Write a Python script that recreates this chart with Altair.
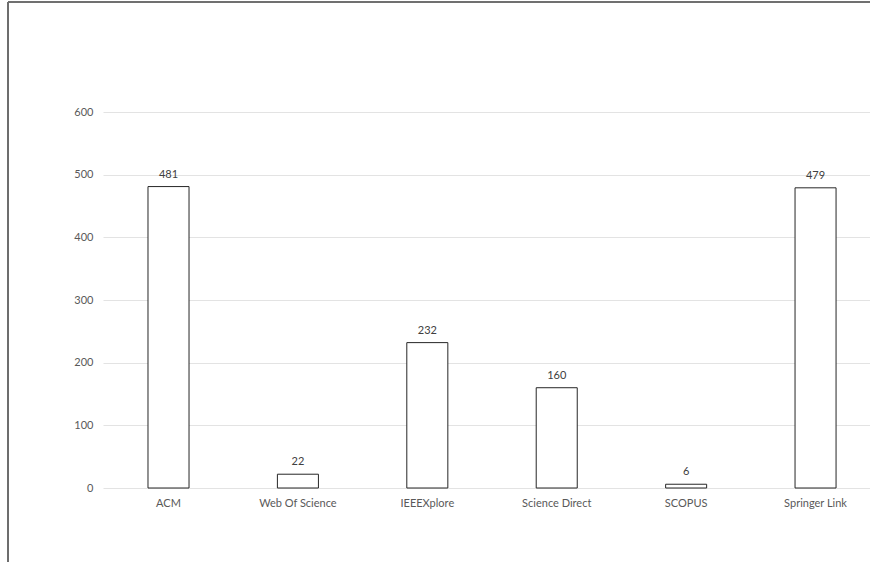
import altair as alt
import pandas as pd

categories = ["ACM", "Web Of Science", "IEEEXplore", "Science Direct", "SCOPUS", "Springer Link"]
values = [481, 22, 232, 160, 6, 479]
y_ticks = [0, 100, 200, 300, 400, 500, 600]

df = pd.DataFrame({"source": categories, "count": values})

W, H = 767, 376
FONT = "Lato"

x = alt.X("source:N", sort=categories, title=None,
          scale=alt.Scale(paddingInner=0.683, paddingOuter=0.305, align=0.57),
          axis=alt.Axis(labelAngle=0, labelColor="#595959", labelFontSize=11, labelFont=FONT,
                        ticks=False, domain=False, labelPadding=9, grid=False))
y = alt.Y("count:Q", title=None,
          scale=alt.Scale(domain=[0, 600], nice=False),
          axis=alt.Axis(values=y_ticks, labelColor="#595959", labelFontSize=11, labelFont=FONT,
                        ticks=False, domain=False, labelPadding=10,
                        gridColor="#e3e3e3", gridWidth=1))

base = alt.Chart(df)

bars = base.mark_bar(fill="white", stroke="#262626", strokeWidth=1).encode(x=x, y=y)

labels = base.mark_text(dy=-7, baseline="bottom", fontSize=11, font=FONT, color="#404040").encode(
    x=alt.X("source:N", sort=categories), y=alt.Y("count:Q"), text=alt.Text("count:Q"))

frame_left = alt.Chart(df).mark_rule(color="#6e6e6e", strokeWidth=1.2).encode(
    x=alt.value(-95), y=alt.value(-110), y2=alt.value(H + 90))
frame_top = alt.Chart(df).mark_rule(color="#6e6e6e", strokeWidth=1.2).encode(
    x=alt.value(-95), x2=alt.value(W + 20), y=alt.value(-110))

chart = alt.layer(bars, labels, frame_left, frame_top).properties(
    width=W, height=H,
    autosize=alt.AutoSizeParams(type="none"),
    padding={"left": 103, "top": 112, "right": 0, "bottom": 74},
    background="white",
).configure_view(stroke=None)

chart.save("out.html", embed_options={"renderer": "svg", "actions": False})
